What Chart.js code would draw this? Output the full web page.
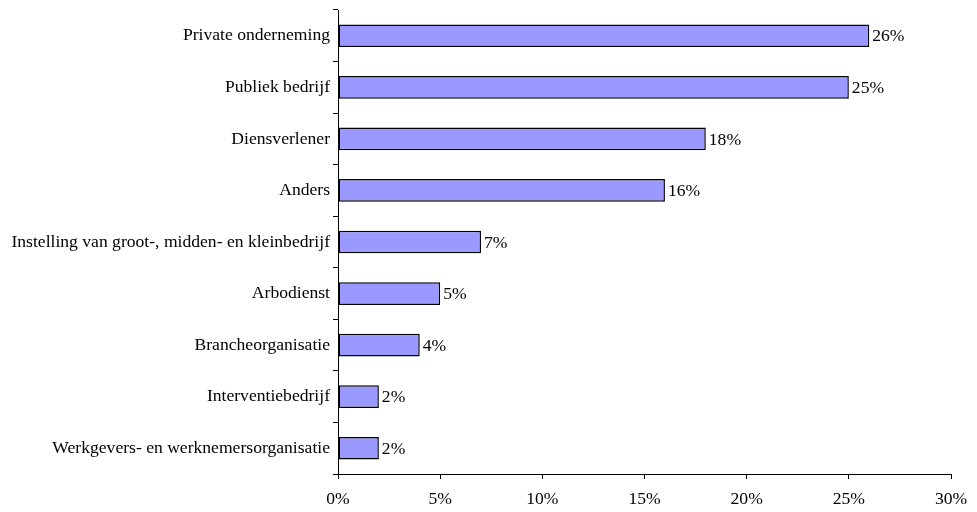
<!DOCTYPE html>
<html>
<head>
<meta charset="utf-8">
<script src="https://cdn.jsdelivr.net/npm/chart.js@4"></script>
<style>
  html, body { margin: 0; padding: 0; background: #fff; }
  #wrap { width: 977px; height: 512px; }
</style>
</head>
<body>
<div id="wrap"><canvas id="chart" width="977" height="512"></canvas></div>
<script>
const categories = [
  'Private onderneming',
  'Publiek bedrijf',
  'Diensverlener',
  'Anders',
  'Instelling van groot-, midden- en kleinbedrijf',
  'Arbodienst',
  'Brancheorganisatie',
  'Interventiebedrijf',
  'Werkgevers- en werknemersorganisatie'
];
const percentages = [26, 25, 18, 16, 7, 5, 4, 2, 2];
const xTicks = [0, 5, 10, 15, 20, 25, 30];

const FONT = { family: '"Liberation Serif", "Times New Roman", serif', size: 17.6 };

// labels at the end of every bar
const valueLabels = {
  id: 'valueLabels',
  afterDatasetsDraw(chart) {
    const ctx = chart.ctx;
    const meta = chart.getDatasetMeta(0);
    ctx.save();
    ctx.font = FONT.size + 'px ' + FONT.family;
    ctx.fillStyle = '#000';
    ctx.textBaseline = 'middle';
    ctx.textAlign = 'left';
    meta.data.forEach((bar, i) => {
      ctx.fillText(percentages[i] + '%', bar.x + 3, bar.y + 1);
    });
    ctx.restore();
  }
};

new Chart(document.getElementById('chart'), {
  type: 'bar',
  data: {
    labels: categories,
    datasets: [{
      data: percentages,
      backgroundColor: '#9999FF',
      borderColor: '#000',
      borderWidth: 1.5,
      borderSkipped: false,
      barPercentage: 0.44,
      categoryPercentage: 1
    }]
  },
  options: {
    indexAxis: 'y',
    responsive: false,
    animation: false,
    layout: { padding: { top: 10, right: 26, left: 0, bottom: 0 } },
    plugins: { legend: { display: false }, tooltip: { enabled: false } },
    scales: {
      x: {
        min: 0,
        max: 30,
        afterBuildTicks(axis) { axis.ticks = xTicks.map(v => ({ value: v })); },
        afterFit(axis) {
          axis.height = 38;
          axis.paddingLeft = 0;
          axis.paddingRight = 0;
        },
        ticks: {
          color: '#000',
          font: FONT,
          padding: 10,
          callback: v => v + '%'
        },
        grid: { drawOnChartArea: false, tickLength: 5, color: '#000' },
        border: { color: '#000', width: 1 }
      },
      y: {
        afterFit(axis) {
          axis.width = 338;
          axis.paddingTop = 0;
          axis.paddingBottom = 0;
        },
        ticks: { color: '#000', font: FONT, padding: 3, autoSkip: false },
        grid: { drawOnChartArea: false, tickLength: 5, color: '#000', offset: true },
        border: { color: '#000', width: 1 }
      }
    }
  },
  plugins: [valueLabels]
});
</script>
</body>
</html>
